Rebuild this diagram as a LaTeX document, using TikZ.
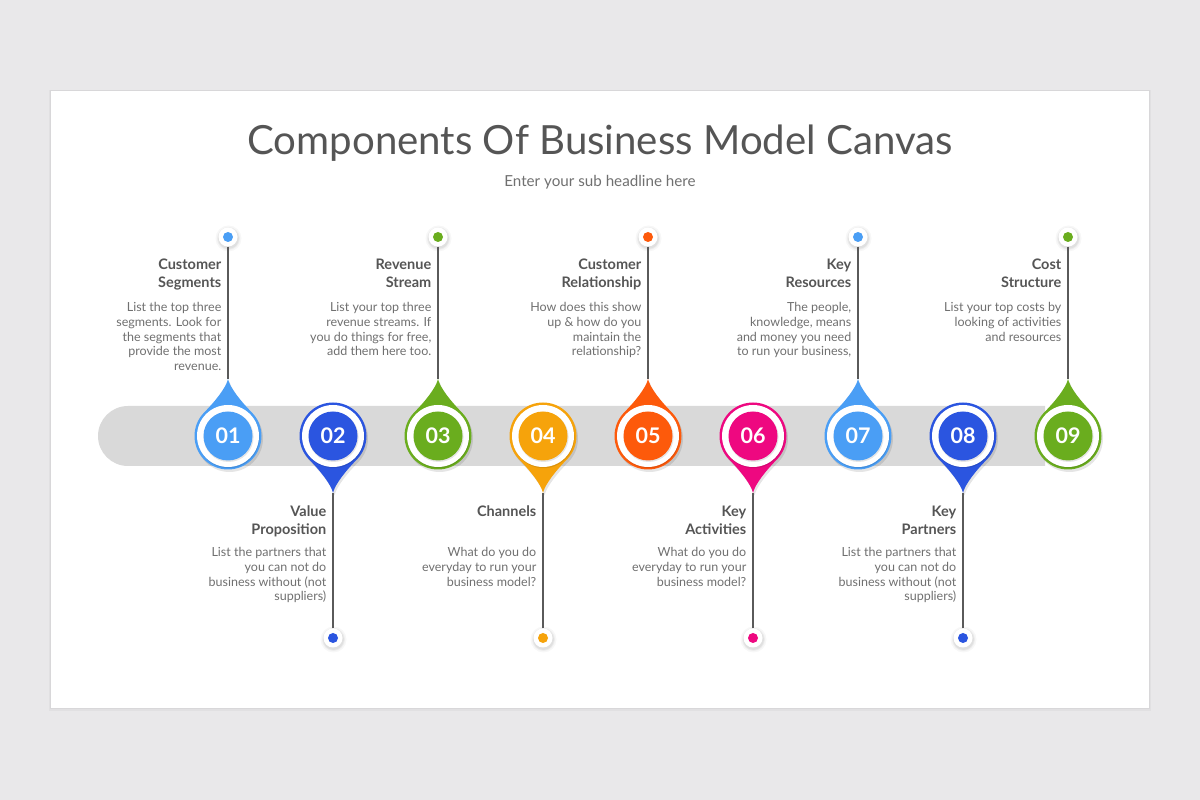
\documentclass[tikz,border=0pt]{standalone}
\usepackage{fontspec}
\setmainfont{Lato}
\definecolor{bgc}{HTML}{E9E8EA}
\definecolor{barc}{HTML}{D9D9D9}
\definecolor{cA}{HTML}{4A9EF5}
\definecolor{cB}{HTML}{2B55E0}
\definecolor{cC}{HTML}{6AAD1E}
\definecolor{cD}{HTML}{F6A30B}
\definecolor{cE}{HTML}{FD5A0B}
\definecolor{cF}{HTML}{EE0880}
\definecolor{titlec}{HTML}{555555}
\definecolor{headc}{HTML}{555555}
\definecolor{descc}{HTML}{707070}
\definecolor{linec}{HTML}{5A5A5A}
\tikzset{
 numtxt/.style={text=white,font=\fontsize{21.5}{21}\selectfont\bfseries,inner sep=0},
 headtxt/.style={text=headc,font=\fontsize{14.5}{18}\selectfont\bfseries,align=right,inner sep=0,anchor=north east},
 desctxt/.style={text=descc,font=\fontsize{12.5}{14.8}\selectfont,align=right,inner sep=0,anchor=north east},
 halo/.style={circle,fill=white,minimum size=19pt,inner sep=0},
 conn/.style={draw=linec,line width=1.1pt},
}
\newcommand\dropfill[1]{\fill[#1] (0,57) .. controls (2,48) and (13.5,34) .. (45:33.5) arc[start angle=45,end angle=-225,radius=33.5] .. controls (-13.5,34) and (-2,48) .. cycle;}
% #1 idx, #2 x, #3 yscale, #4 colour, #5 number
\newcommand\mkmarker[5]{%
 \begin{scope}[shift={(#2,364)}]
  \begin{scope}[shift={(1.5,-2.5)}]
   \begin{scope}[yscale=#3]\dropfill{black,opacity=0.10}\end{scope}
  \end{scope}
  \begin{scope}[yscale=#3]
   \dropfill{#4}
   \coordinate (t#1) at (0,57);
  \end{scope}
  \fill[black,opacity=0.10] (0.6,-1.2) circle (31);
  \fill[white] (0,0) circle (31);
  \fill[black,opacity=0.10] (0.6,-1) circle (25);
  \fill[#4] (0,0) circle (24.5);
  \node[numtxt] (m#1) at (0,0) {#5};
 \end{scope}}
% #1 idx, #2 x, #3 y, #4 colour
\newcommand\mkdot[4]{%
 \foreach \r/\o in {13/0.03,11.5/0.04,10.5/0.05}{\fill[black,opacity=\o] (#2+0.5,#3-1.5) circle (\r);}
 \node[halo] (d#1) at (#2,#3) {};
 \fill[#4] (d#1.center) circle (5);
 \draw[conn] (d#1) -- (t#1);}
\newcommand\topitem[4]{%
 \node[headtxt] (h#1) at (#2-6.5,543.6) {\strut#3};
 \node[desctxt] (x#1) at (#2-6.5,499) {\strut#4};}
\newcommand\botitem[4]{%
 \node[headtxt] (h#1) at (#2-6.5,296.6) {\strut#3};
 \node[desctxt] (x#1) at (#2-6.5,254) {\strut#4};}
\begin{document}
\begin{tikzpicture}[x=1pt,y=1pt]
\useasboundingbox (0,0) rectangle (1200,800);
\fill[bgc] (0,0) rectangle (1200,800);
% card
\fill[black,opacity=0.03] (49,89) rectangle (1151,710);
\fill[black,opacity=0.04] (50,90.5) rectangle (1150,709.5);
\fill[white] (51,92) rectangle (1149,709);
% title
\node[font=\fontsize{40.2}{41}\selectfont,text=titlec,anchor=base,inner sep=0] (title) at (600,645) {Components Of Business Model Canvas};
\node[font=\fontsize{15.2}{15}\selectfont,text=descc,anchor=base,inner sep=0] (sub) at (600,613) {Enter your sub headline here};
% bar
\fill[barc] (1045,334) -- (128,334) arc[start angle=270,end angle=90,radius=30] -- (1045,394) -- cycle;
% markers
\mkmarker{1}{228}{1}{cA}{01}
\mkmarker{2}{333}{-1}{cB}{02}
\mkmarker{3}{438}{1}{cC}{03}
\mkmarker{4}{543}{-1}{cD}{04}
\mkmarker{5}{648}{1}{cE}{05}
\mkmarker{6}{753}{-1}{cF}{06}
\mkmarker{7}{858}{1}{cA}{07}
\mkmarker{8}{963}{-1}{cB}{08}
\mkmarker{9}{1068}{1}{cC}{09}
% dots and connectors
\mkdot{1}{228}{563}{cA}
\mkdot{2}{333}{162}{cB}
\mkdot{3}{438}{563}{cC}
\mkdot{4}{543}{162}{cD}
\mkdot{5}{648}{563}{cE}
\mkdot{6}{753}{162}{cF}
\mkdot{7}{858}{563}{cA}
\mkdot{8}{963}{162}{cB}
\mkdot{9}{1068}{563}{cC}
% texts
\topitem{1}{228}{Customer\\Segments}{List the top three\\segments. Look for\\the segments that\\provide the most\\revenue.}
\topitem{3}{438}{Revenue\\Stream}{List your top three\\revenue streams. If\\you do things for free,\\add them here too.}
\topitem{5}{648}{Customer\\Relationship}{How does this show\\up \& how do you\\maintain the\\relationship?}
\topitem{7}{858}{Key\\Resources}{The people,\\knowledge, means\\and money you need\\to run your business,}
\topitem{9}{1068}{Cost\\Structure}{List your top costs by\\looking of activities\\and resources}
\botitem{2}{333}{Value\\Proposition}{List the partners that\\you can not do\\business without (not\\suppliers)}
\botitem{4}{543}{Channels}{What do you do\\everyday to run your\\business model?}
\botitem{6}{753}{Key\\Activities}{What do you do\\everyday to run your\\business model?}
\botitem{8}{963}{Key\\Partners}{List the partners that\\you can not do\\business without (not\\suppliers)}
\end{tikzpicture}
\end{document}
